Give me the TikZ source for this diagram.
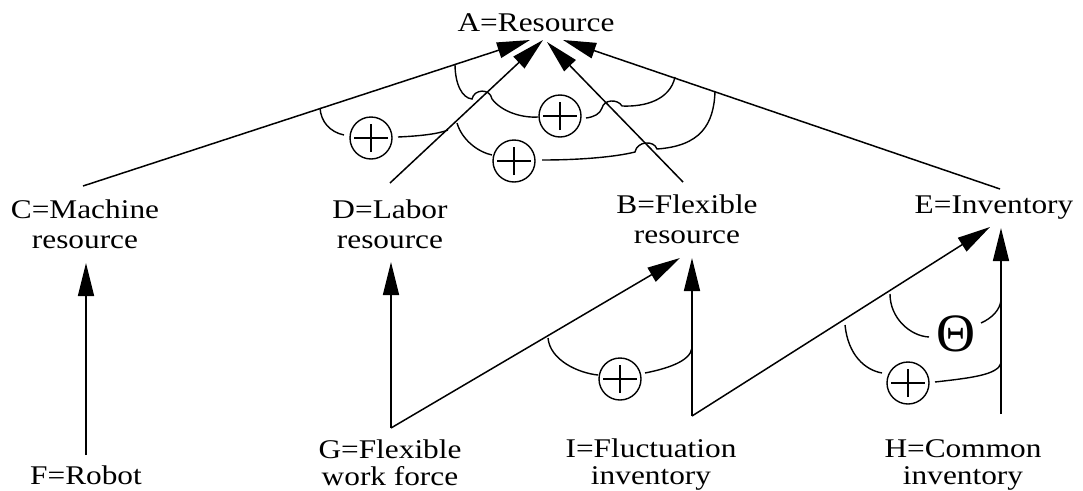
\documentclass[tikz,border=0pt]{standalone}
\usepackage{fontspec}
\setmainfont{Liberation Serif}[FakeStretch=1.16]
\newfontfamily\thetafont{Liberation Serif}
\usetikzlibrary{arrows.meta}
\newcommand\twoline[3][30pt]{\vtop{\baselineskip=#1\lineskiplimit=-\maxdimen\halign{\hfil##\hfil\cr#2\cr#3\cr}}}
\begin{document}
\begin{tikzpicture}[x=1pt,y=-1pt,
  lab/.style={inner sep=0pt, anchor=base, font=\fontsize{27}{30}\selectfont},
  conn/.style={line width=1.5pt},
  arr/.style={conn, -{Triangle[length=33pt,width=16pt]}},
  arcl/.style={line width=1.4pt},
  oplus/.style={circle, draw, line width=1.4pt, minimum size=42pt, inner sep=0pt,
    path picture={\draw[line width=1.4pt]
      ([xshift=-17pt]path picture bounding box.center) -- ([xshift=17pt]path picture bounding box.center)
      ([yshift=-14pt]path picture bounding box.center) -- ([yshift=14pt]path picture bounding box.center);}},
  thetasym/.style={inner sep=0pt, font=\thetafont\fontsize{54}{54}\selectfont}
]
\useasboundingbox (0,0) rectangle (1083,490);

% labels
\node[lab] (A) at (536,31) {A=Resource};
\node[lab] (C) at (85,218) {\twoline{C=Machine}{resource}};
\node[lab] (D) at (390,218) {\twoline{D=Labor}{resource}};
\node[lab] (B) at (687,213) {\twoline{B=Flexible}{resource}};
\node[lab] (E) at (994,213) {E=Inventory};
\node[lab] (F) at (86,484) {F=Robot};
\node[lab] (G) at (390,458) {\twoline[27pt]{G=Flexible}{work force}};
\node[lab] (I) at (651,457) {\twoline[27pt]{I=Fluctuation}{inventory}};
\node[lab] (H) at (963,457) {\twoline[27pt]{H=Common}{inventory}};

% attachment points
\coordinate (c1) at (83,186);   \coordinate (a1) at (530,40);
\coordinate (d1) at (390,183);  \coordinate (a2) at (543,40);
\coordinate (b1) at (683,182);  \coordinate (a3) at (547,42);
\coordinate (e1) at (1000,189); \coordinate (a4) at (563,40);
\coordinate (f1) at (86,455);   \coordinate (c2) at (86,263);
\coordinate (g1) at (391,428);  \coordinate (d2) at (391,262); \coordinate (b2) at (680,258);
\coordinate (i1) at (692,416);  \coordinate (b3) at (692,258); \coordinate (e2) at (990,227);
\coordinate (h1) at (1001,414); \coordinate (e3) at (1001,228);

% connectors
\draw[arr] (c1) -- (a1);
\draw[arr] (d1) -- (a2);
\draw[arr] (b1) -- (a3);
\draw[arr] (e1) -- (a4);
\draw[arr] (f1) -- (c2);
\draw[arr] (g1) -- (d2);
\draw[arr] (g1) -- (b2);
\draw[arr] (i1) -- (b3);
\draw[arr] (i1) -- (e2);
\draw[arr] (h1) -- (e3);

% combination symbols
\node[oplus] (P1) at (371,138) {};
\node[oplus] (P2) at (560,116) {};
\node[oplus] (P3) at (514,161) {};
\node[oplus] (P4) at (620,379) {};
\node[thetasym] (T5) at (956,334) {Θ};
\node[oplus] (P6) at (908,383) {};

% arcs
\draw[arcl] (320,108) .. controls (321,122) and (330,132) .. (344,135);
\draw[arcl] (398,137) .. controls (420,136) and (438,134) .. (448,130);

\draw[arcl] (455,64) .. controls (455,84) and (462,98) .. (472,99)
  .. controls (474,89) and (490,88) .. (492,99)
  .. controls (502,112) and (522,118) .. (538,117);
\draw[arcl] (586,118) .. controls (594,117) and (600,114) .. (602,108)
  .. controls (604,99) and (618,99) .. (622,106)
  .. controls (645,107) and (670,100) .. (675,77);

\draw[arcl] (457,123) .. controls (462,140) and (478,152) .. (492,155);
\draw[arcl] (542,160) .. controls (580,160) and (615,157) .. (635,152)
  .. controls (637,141) and (654,140) .. (657,149)
  .. controls (700,146) and (714,125) .. (715,91);

\draw[arcl] (548,338) .. controls (550,360) and (578,373) .. (598,375);
\draw[arcl] (645,373) .. controls (665,369) and (690,362) .. (692,348);

\draw[arcl] (890,294) .. controls (890,318) and (910,336) .. (929,337);
\draw[arcl] (981,323) .. controls (992,318) and (1000,310) .. (1001,300);

\draw[arcl] (845,325) .. controls (848,355) and (865,370) .. (882,373);
\draw[arcl] (935,382) .. controls (970,378) and (998,375) .. (1001,363);
\end{tikzpicture}
\end{document}
